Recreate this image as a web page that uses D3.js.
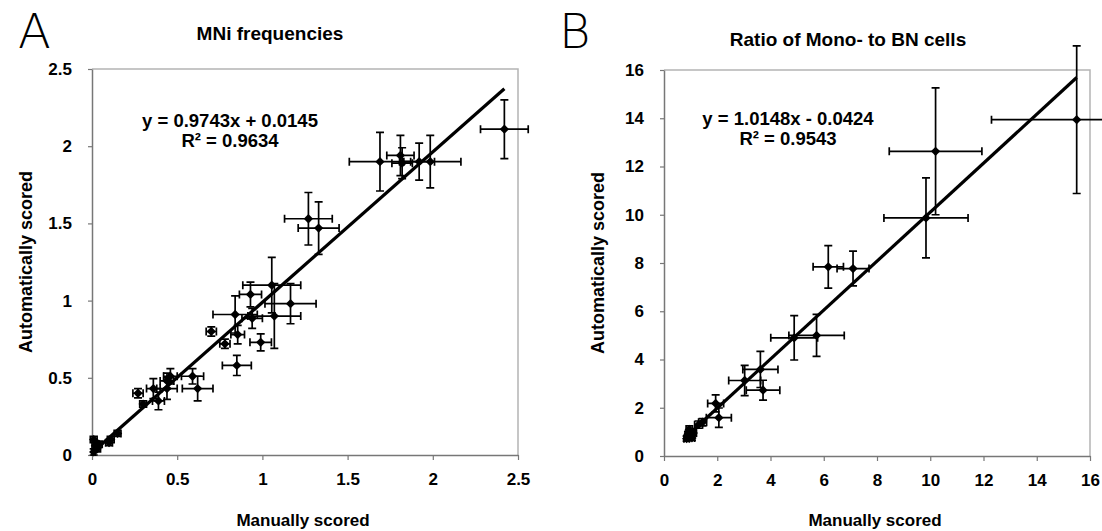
<!DOCTYPE html>
<html>
<head>
<meta charset="utf-8">
<script src="https://cdn.jsdelivr.net/npm/d3@7"></script>
<style>
  body { margin: 0; background: #fff; }
  text { font-family: "Liberation Sans", Arial, sans-serif; }
</style>
</head>
<body>
<div id="chart"></div>
<script>
// panel A: MNi frequencies  [x, xErr, y, yErr]
const mniX    = [0.01,0.02,0.01,0.04,0.03,0.10,0.11,0.15,0.27,0.30,0.36,0.39,0.44,0.44,0.46,0.59,0.62,0.70,0.78,0.855,0.85,0.99,0.84,0.94,1.07,0.93,1.055,1.165,1.27,1.33,1.69,1.81,1.82,1.92,1.985,2.42];
const mniXErr = [0.01,0.02,0.02,0.02,0.02,0.02,0.02,0.02,0.03,0.02,0.04,0.035,0.06,0.04,0.04,0.065,0.09,0.03,0.03,0.04,0.085,0.063,0.13,0.06,0.155,0.065,0.17,0.15,0.14,0.12,0.18,0.08,0.06,0.09,0.18,0.14];
const mniY    = [0.02,0.06,0.10,0.07,0.04,0.08,0.10,0.14,0.40,0.33,0.43,0.35,0.43,0.48,0.51,0.51,0.43,0.80,0.72,0.78,0.58,0.73,0.91,0.885,0.90,1.04,1.10,0.98,1.53,1.47,1.90,1.94,1.89,1.90,1.90,2.11];
const mniYErr = [0.02,0.03,0.02,0.02,0.02,0.02,0.02,0.02,0.03,0.02,0.065,0.057,0.07,0.05,0.05,0.05,0.08,0.03,0.03,0.06,0.065,0.055,0.12,0.065,0.21,0.08,0.18,0.13,0.17,0.17,0.19,0.13,0.10,0.12,0.17,0.19];

// panel B: ratio of mono- to BN cells
const ratioX    = [0.85,0.9,0.95,1.05,1.1,0.9,1.3,1.45,1.94,2.06,3.03,3.62,3.72,4.89,5.73,6.17,7.1,9.84,10.2,15.5];
const ratioXErr = [0.1,0.1,0.12,0.1,0.12,0.1,0.15,0.15,0.3,0.47,0.6,0.66,0.63,0.88,1.04,0.57,0.6,1.58,1.74,3.2];
const ratioY    = [0.72,0.8,1.1,0.75,0.95,0.9,1.3,1.4,2.18,1.59,3.13,3.59,2.73,4.90,5.0,7.84,7.77,9.87,12.63,13.94];
const ratioYErr = [0.1,0.12,0.15,0.1,0.12,0.1,0.15,0.15,0.35,0.4,0.63,0.75,0.41,0.92,0.87,0.88,0.72,1.66,2.63,3.06];

const mniTicks   = [0, 0.5, 1, 1.5, 2, 2.5];
const ratioTicks = [0, 2, 4, 6, 8, 10, 12, 14, 16];

const panels = [
  { letter: "A", letterX: 18, title: "MNi frequencies", titleX: 270, titleY: 40,
    left: 92, top: 69, max: 2.5, ticks: mniTicks,
    xs: mniX, xe: mniXErr, ys: mniY, ye: mniYErr, lineFrom: 0,
    slope: 0.9743, icpt: 0.0145, eq: ["y = 0.9743x + 0.0145", "R² = 0.9634"], eqX: 230, eqY: 127 },
  { letter: "B", letterX: 559, title: "Ratio of Mono- to BN cells", titleX: 848, titleY: 46,
    left: 664, top: 70, max: 16, ticks: ratioTicks,
    xs: ratioX, xe: ratioXErr, ys: ratioY, ye: ratioYErr, lineFrom: null,
    slope: 1.0148, icpt: -0.0424, eq: ["y = 1.0148x - 0.0424", "R² = 0.9543"], eqX: 788, eqY: 125 }
];

const W = 1102, H = 531, pw = 426, ph = 386;

const svg = d3.select("#chart").append("svg")
    .attr("width", W).attr("height", H);

panels.forEach(p => {
    const g = svg.append("g").attr("transform", `translate(${p.left},${p.top})`);

    const x = d3.scaleLinear().domain([0, p.max]).range([0, pw]);
    const y = d3.scaleLinear().domain([0, p.max]).range([ph, 0]);

    // plot border (top / right)
    g.append("path")
        .attr("d", `M0,0H${pw}V${ph}`)
        .attr("fill", "none").attr("stroke", "#b4b4b4").attr("stroke-width", 1.5);

    const xAxis = g.append("g")
        .attr("transform", `translate(0,${ph})`)
        .call(d3.axisBottom(x).tickValues(p.ticks).tickFormat(String).tickSizeInner(5).tickSizeOuter(0).tickPadding(13));
    const yAxis = g.append("g")
        .call(d3.axisLeft(y).tickValues(p.ticks).tickFormat(String).tickSizeInner(4).tickSizeOuter(0).tickPadding(16));

    [xAxis, yAxis].forEach(a => {
        a.select(".domain").attr("stroke", "#777").attr("stroke-width", 1.5);
        a.selectAll(".tick line").attr("stroke", "#777").attr("stroke-width", 1.2);
        a.selectAll("text")
            .attr("fill", "#000")
            .style("font-size", "17px")
            .style("font-weight", "bold")
            .style("font-family", "'Liberation Sans', Arial, sans-serif");
    });

    const data = p.xs.map((v, i) => ({ x: v, xe: p.xe[i], y: p.ys[i], ye: p.ye[i] }));

    // error bars
    const cap = 4;
    const eb = g.append("g").attr("stroke", "#000").attr("stroke-width", 1.7).attr("fill", "none");
    data.forEach(d => {
        const cx = x(d.x), cy = y(d.y);
        const x0 = x(d.x - d.xe), x1 = x(d.x + d.xe);
        const y0 = y(d.y - d.ye), y1 = y(d.y + d.ye);
        eb.append("path").attr("d",
            `M${x0},${cy}H${x1}M${x0},${cy - cap}V${cy + cap}M${x1},${cy - cap}V${cy + cap}` +
            `M${cx},${y0}V${y1}M${cx - cap},${y0}H${cx + cap}M${cx - cap},${y1}H${cx + cap}`);
    });

    // trend line
    const xMax = d3.max(p.xs);
    const lx0 = p.lineFrom !== null ? p.lineFrom : d3.min(p.xs);
    g.append("line")
        .attr("x1", x(lx0)).attr("y1", y(p.slope * lx0 + p.icpt))
        .attr("x2", x(xMax)).attr("y2", y(p.slope * xMax + p.icpt))
        .attr("stroke", "#000").attr("stroke-width", 3.2);

    // diamonds
    g.selectAll(".pt").data(data).join("path")
        .attr("class", "pt")
        .attr("transform", d => `translate(${x(d.x)},${y(d.y)})`)
        .attr("d", d3.symbol(d3.symbolDiamond2, 55))
        .attr("fill", "#000");

    // equation
    p.eq.forEach((t, i) => {
        svg.append("text")
            .attr("x", p.eqX).attr("y", p.eqY + i * 20)
            .attr("text-anchor", "middle")
            .style("font-size", "18.5px").style("font-weight", "bold")
            .text(t);
    });

    // titles
    svg.append("text")
        .attr("x", p.titleX).attr("y", p.titleY)
        .attr("text-anchor", "middle")
        .style("font-size", "19px").style("font-weight", "bold")
        .text(p.title);

    svg.append("text")
        .attr("x", p.letterX).attr("y", 48)
        .style("font-size", "48px").style("font-family", "'DejaVu Sans', sans-serif")
        .style("font-weight", "300")
        .text(p.letter);

    svg.append("text")
        .attr("x", p.left + pw / 2 - 2).attr("y", 526)
        .attr("text-anchor", "middle")
        .style("font-size", "17px").style("font-weight", "bold")
        .text("Manually scored");

    svg.append("text")
        .attr("transform", `translate(${p.left - 60},${p.top + ph / 2}) rotate(-90)`)
        .attr("text-anchor", "middle")
        .style("font-size", "18px").style("font-weight", "bold")
        .text("Automatically scored");
});
</script>
</body>
</html>
